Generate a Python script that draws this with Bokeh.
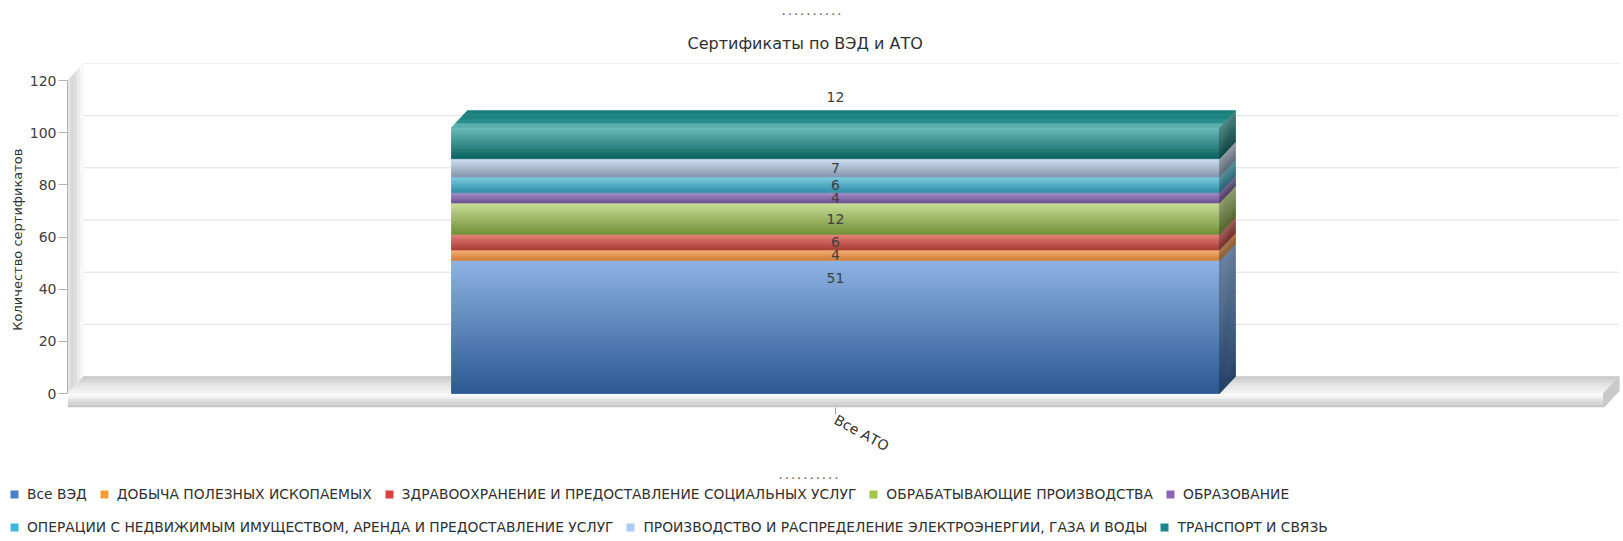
import numpy as np
from bokeh.plotting import figure
from bokeh.layouts import column
from bokeh.models import Range1d, FixedTicker, Legend, LegendItem, Label, Title, ColumnDataSource
from bokeh.core.properties import value
from bokeh.embed import file_html
from bokeh.resources import INLINE

# ---------------- data ----------------
chart_title = "Сертификаты по ВЭД и АТО"
y_axis_title = "Количество сертификатов"
categories = ["Все АТО"]
series_names = [
    "Все ВЭД",
    "ДОБЫЧА ПОЛЕЗНЫХ ИСКОПАЕМЫХ",
    "ЗДРАВООХРАНЕНИЕ И ПРЕДОСТАВЛЕНИЕ СОЦИАЛЬНЫХ УСЛУГ",
    "ОБРАБАТЫВАЮЩИЕ ПРОИЗВОДСТВА",
    "ОБРАЗОВАНИЕ",
    "ОПЕРАЦИИ С НЕДВИЖИМЫМ ИМУЩЕСТВОМ, АРЕНДА И ПРЕДОСТАВЛЕНИЕ УСЛУГ",
    "ПРОИЗВОДСТВО И РАСПРЕДЕЛЕНИЕ ЭЛЕКТРОЭНЕРГИИ, ГАЗА И ВОДЫ",
    "ТРАНСПОРТ И СВЯЗЬ",
]
series_values = [51, 4, 6, 12, 4, 6, 7, 12]   # values for "Все АТО"
y_ticks = [0, 20, 40, 60, 80, 100, 120]
legend_row_sizes = [5, 3]

# ---------------- styles ----------------
FONT = "DejaVu Sans"
legend_colors = ["#4a7ec8", "#f79a34", "#d9413c", "#a3c54c", "#8d62b8", "#3cb7de", "#a8cdef", "#18898a"]
face_top = ["#90b6e4", "#f7b27a", "#e8877f", "#cbe09b", "#ab93cb", "#7dd0e3", "#d2e3f3", "#6fbfbb"]
face_bot = ["#2c5891", "#cf7f39", "#a93b37", "#74903a", "#6c5293", "#338ea9", "#8595ad", "#0a6361"]


def hex2rgb(c):
    return [int(c[i:i + 2], 16) for i in (1, 3, 5)]


def mix(c1, c2, t):
    a, b = hex2rgb(c1), hex2rgb(c2)
    return "#%02x%02x%02x" % tuple(int(round(a[j] + (b[j] - a[j]) * t)) for j in range(3))


def darken(c, f):
    a = hex2rgb(c)
    return "#%02x%02x%02x" % tuple(int(round(v * f)) for v in a)


# ---------------- geometry (pixels) ----------------
W = 1620
TOTAL_H = 540
BL, BR, BT, BB = 67, 1, 63, 57
FH = 344
HM = BT + FH + BB          # main chart
HL = TOTAL_H - HM          # bottom strip: handle + legend
FW = W - BL - BR
DEPTH_X_PX, DEPTH_Y_PX, FLOOR_PX = 16, 17, 14

ymax = max(y_ticks)
k = (FH - DEPTH_Y_PX - FLOOR_PX) / ymax          # px per value unit
dy = DEPTH_Y_PX / k
ft = FLOOR_PX / k
ncat = len(categories)
ux = (FW - DEPTH_X_PX) / ncat                     # px per category slot
dx = DEPTH_X_PX / ux
BAR_W = 0.5

HANDLE = ". . . . . . . . . ."
HANDLE_W_EST = 59

# ---------------- main chart ----------------
p = figure(width=W, height=HM, x_range=Range1d(0, ncat + dx), y_range=Range1d(-ft, ymax + dy),
           output_backend="svg", toolbar_location=None,
           min_border_left=BL, min_border_right=BR, min_border_top=BT, min_border_bottom=BB)
p.outline_line_color = None
p.xgrid.visible = False
p.ygrid.visible = False
p.background_fill_color = "white"
p.border_fill_color = "white"

# left wall
wall_cols = ["#e2e2e2", "#d8d8d8", "#dedede", "#ececec", "#f7f7f7"]
nw = len(wall_cols)
xs, ys = [], []
for j in range(nw):
    f0, f1 = j / nw, (j + 1) / nw
    xs.append([f0 * dx, f1 * dx, f1 * dx, f0 * dx])
    ys.append([f0 * dy, f1 * dy, ymax + f1 * dy, ymax + f0 * dy])
p.patches(xs, ys, fill_color=wall_cols, line_color=wall_cols, line_width=0.5)

# back-wall gridlines
p.segment(x0=[dx] * len(y_ticks), y0=[v + dy for v in y_ticks],
          x1=[ncat + dx] * len(y_ticks), y1=[v + dy for v in y_ticks],
          line_color="#e0e0e0", line_width=1)

# floor
floor_top_cols = ["#cdcdcd", "#d8d8d8", "#e2e2e2", "#eaeaea", "#f0f0f0"]
nf = len(floor_top_cols)
xs, ys = [], []
for j in range(nf):
    f1, f0 = 1 - j / nf, 1 - (j + 1) / nf
    xs.append([f0 * dx, ncat + f0 * dx, ncat + f1 * dx, f1 * dx])
    ys.append([f0 * dy, f0 * dy, f1 * dy, f1 * dy])
p.patches(xs, ys, fill_color=floor_top_cols, line_color=floor_top_cols, line_width=0.5)

floor_front_cols = ["#f8f8f8", "#efefef", "#e0e0e0", "#d2d2d2", "#c6c6c6"]
nff = len(floor_front_cols)
p.quad(left=[0] * nff, right=[ncat] * nff,
       top=[-ft * j / nff for j in range(nff)], bottom=[-ft * (j + 1) / nff for j in range(nff)],
       fill_color=floor_front_cols, line_color=None)
p.patch([ncat, ncat + dx, ncat + dx, ncat], [-ft, dy - ft, dy, 0], fill_color="#c9c9c9", line_color="#c9c9c9")

# stacked 3D bar
vals = np.array(series_values, dtype=float)
tops = np.cumsum(vals)
bots = tops - vals
xc = 0 + 0.5
xl, xr = xc - BAR_W / 2, xc + BAR_W / 2

base_src = ColumnDataSource(dict(left=[xl] * len(vals), right=[xr] * len(vals),
                                 bottom=bots, top=tops, color=legend_colors))
p.quad(left="left", right="right", bottom="bottom", top="top", fill_color="color",
       line_color=None, source=base_src)

STRIP_PX = 2.0
L, R, B, T, C = [], [], [], [], []
sxs, sys_, scs = [], [], []
for s, v in enumerate(vals):
    n = max(2, int(round(v * k / STRIP_PX)))
    for j in range(n):
        y1 = tops[s] - j * v / n
        y0 = tops[s] - (j + 1) * v / n
        col = mix(face_top[s], face_bot[s], (j + 0.5) / n)
        L.append(xl); R.append(xr); B.append(y0); T.append(y1); C.append(col)
        sxs.append([xr, xr + dx, xr + dx, xr])
        sys_.append([y0, y0 + dy, y1 + dy, y1])
        scs.append(darken(col, 0.68))
p.quad(left=L, right=R, bottom=B, top=T, fill_color=C, line_color=C, line_width=0.6)
p.patches(sxs, sys_, fill_color=scs, line_color=scs, line_width=0.6)

top_cols = ["#58aeab", "#2a8f8c", "#1d8480", "#1a7f7c"]
ntf = len(top_cols)
xs, ys = [], []
for j in range(ntf):
    f0, f1 = j / ntf, (j + 1) / ntf
    xs.append([xl + f0 * dx, xr + f0 * dx, xr + f1 * dx, xl + f1 * dx])
    ys.append([tops[-1] + f0 * dy, tops[-1] + f0 * dy, tops[-1] + f1 * dy, tops[-1] + f1 * dy])
p.patches(xs, ys, fill_color=top_cols, line_color=top_cols, line_width=0.5)

# value labels
LABEL_DROP_PX = 18
TOP_LABEL_GAP_PX = 13
label_y = tops - np.minimum(vals / 2, LABEL_DROP_PX / k)
label_y[-1] = tops[-1] + dy + TOP_LABEL_GAP_PX / k
p.text(x=[xc] * len(vals), y=label_y, text=[str(int(v)) for v in vals],
       text_align="center", text_baseline="middle", text_font=value(FONT),
       text_font_size="14px", text_color="#404040")

# axes
yax = p.yaxis[0]
yax.ticker = FixedTicker(ticks=y_ticks)
yax.bounds = (0, ymax)
yax.axis_line_color = "#b4b4b4"
yax.major_tick_line_color = "#b4b4b4"
yax.major_tick_out = 9
yax.major_tick_in = 0
yax.minor_tick_line_color = None
yax.major_label_text_font = FONT
yax.major_label_text_font_size = "14px"
yax.major_label_text_color = "#404040"
yax.major_label_standoff = 2
yax.axis_label = y_axis_title + "\u00a0" * 2
yax.axis_label_text_font = FONT
yax.axis_label_text_font_size = "13px"
yax.axis_label_text_font_style = "normal"
yax.axis_label_text_color = "#303030"
yax.axis_label_standoff = 2

xax = p.xaxis[0]
cat_ticks = [i + 0.5 for i in range(ncat)]
xax.ticker = FixedTicker(ticks=cat_ticks)
xax.major_label_overrides = {t: c for t, c in zip(cat_ticks, categories)}
xax.axis_line_color = None
xax.major_tick_line_color = "#a0a0a0"
xax.major_tick_out = 7
xax.major_tick_in = 0
xax.minor_tick_line_color = None
xax.major_label_orientation = -0.5
xax.major_label_text_font = FONT
xax.major_label_text_font_size = "14px"
xax.major_label_text_color = "#303030"
xax.major_label_standoff = 4

# chart title (nearest the frame) and the drag handle above it (outermost)
TITLE_W_EST = 232
p.add_layout(Title(text=chart_title, align="left", offset=736 - TITLE_W_EST / 2, text_font=FONT,
                   text_font_size="16px", text_font_style="normal", text_color="#303030",
                   standoff=22), "above")
p.title.text = HANDLE
p.title.align = "left"
p.title.offset = 744 - HANDLE_W_EST / 2
p.title.text_font = FONT
p.title.text_font_size = "8.5px"
p.title.text_font_style = "bold"
p.title.text_color = "#6a6a6a"
p.title.standoff = 7

# ---------------- bottom strip: handle + legend ----------------
pl = figure(width=W, height=HL, x_range=Range1d(0, W), y_range=Range1d(0, HL),
            x_axis_location=None, y_axis_location=None,
            output_backend="svg", toolbar_location=None,
            min_border_left=0, min_border_right=0, min_border_top=0, min_border_bottom=0)
pl.frame_align = False
pl.outline_line_color = None
pl.xgrid.visible = False
pl.ygrid.visible = False
pl.background_fill_color = "white"
pl.border_fill_color = "white"

pl.add_layout(Label(x=808, y=HL - 11, text=HANDLE, text_align="center", text_baseline="alphabetic",
                    text_font=FONT, text_font_size="8.5px", text_font_style="bold", text_color="#6a6a6a"))
swatch = pl.quad(left="left", right="right", bottom="bottom", top="top", fill_color="color",
                 line_color=None, source=base_src, visible=False)

items = [LegendItem(label=n, renderers=[swatch], index=i) for i, n in enumerate(series_names)]
LEG_H = 16
row_centers = [30, 63]     # px from the strip top
start = 0
for r, cnt in enumerate(legend_row_sizes):
    leg = Legend(items=items[start:start + cnt], orientation="horizontal",
                 location=(9, HL - row_centers[r] - LEG_H / 2),
                 glyph_width=10, glyph_height=10, label_standoff=8, spacing=12,
                 padding=0, margin=0, border_line_color=None, background_fill_alpha=0,
                 inactive_fill_alpha=0,
                 label_text_font=FONT, label_text_font_size="13.8px", label_text_color="#303030",
                 label_height=LEG_H, label_text_baseline="middle")
    pl.add_layout(leg)
    start += cnt

layout = column(p, pl, spacing=0)
open("out.html", "w").write(file_html(layout, INLINE))
